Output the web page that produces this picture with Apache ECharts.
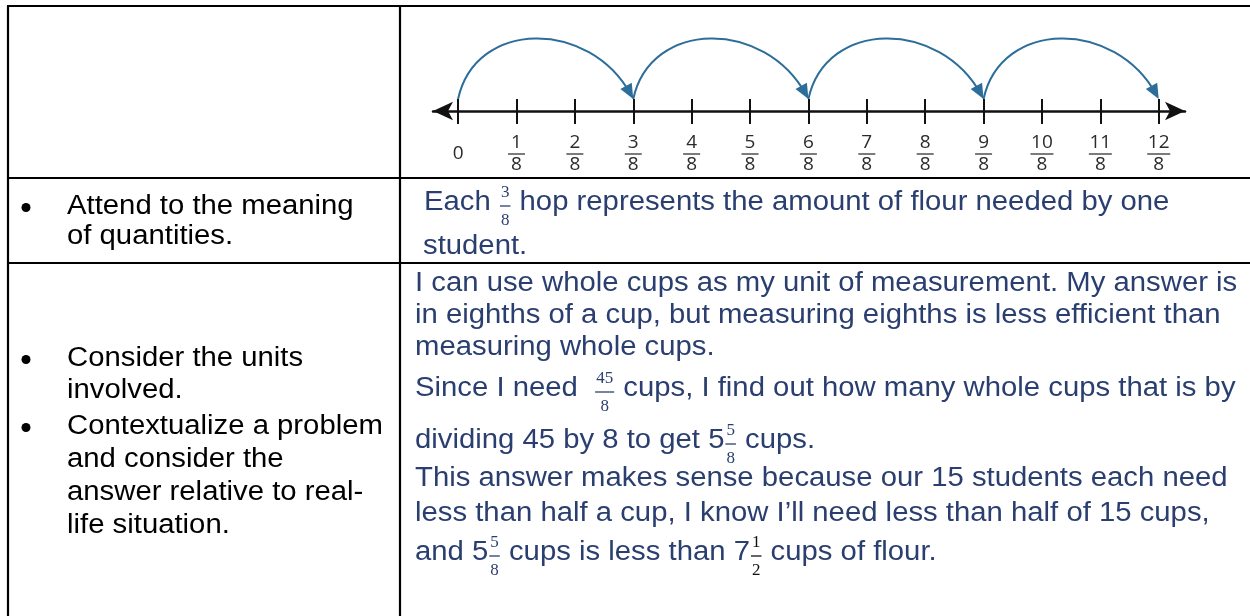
<!DOCTYPE html>
<html lang="en">
<head>
<meta charset="UTF-8">
<title>Flour hops</title>
<script src="https://cdn.jsdelivr.net/npm/echarts@6/dist/echarts.min.js"></script>
<style>html,body{margin:0;padding:0;background:#fff;}</style>
</head>
<body>
<div id="main" style="width:1250px;height:616px;"></div>
<script type="text/javascript">
// number line, counted in eighths
var tickValues = [0, 1, 2, 3, 4, 5, 6, 7, 8, 9, 10, 11, 12];
var tickLabels = ['0', '1/8', '2/8', '3/8', '4/8', '5/8', '6/8', '7/8', '8/8', '9/8', '10/8', '11/8', '12/8'];
var hopStarts = [0, 3, 6, 9];
var hopEnds = [3, 6, 9, 12];

// table text (fractions written as [numerator, denominator, colour])
var leftRow2 = ['Attend to the meaning', 'of quantities.'];
var leftRow3a = ['Consider the units', 'involved.'];
var leftRow3b = ['Contextualize a problem', 'and consider the', 'answer relative to real-', 'life situation.'];
var rightRow2 = [
  ['Each ', ['3', '8'], ' hop represents the amount of flour needed by one'],
  ['student.']
];
var rightRow3 = [
  ['I can use whole cups as my unit of measurement. My answer is'],
  ['in eighths of a cup, but measuring eighths is less efficient than'],
  ['measuring whole cups.'],
  ['Since I need  ', ['45', '8'], ' cups, I find out how many whole cups that is by'],
  ['dividing 45 by 8 to get 5', ['5', '8'], ' cups.'],
  ['This answer makes sense because our 15 students each need'],
  ['less than half a cup, I know I\u2019ll need less than half of 15 cups,'],
  ['and 5', ['5', '8'], ' cups is less than 7', ['1', '2', '#111'], ' cups of flour.']
];

var HOP = '#2c6e99';
var BLUE = '#2a3f6f';
var SX = 1.085;
var bodyFont = '27px "Liberation Sans", Arial, sans-serif';
var fracFont = '17px "Liberation Serif", serif';

var ctx = document.createElement('canvas').getContext('2d');
function textW(s, font) { ctx.font = font; return ctx.measureText(s).width; }

var g = [];
function line(x1, y1, x2, y2) {
  g.push({type: 'line', silent: true, shape: {x1: x1, y1: y1, x2: x2, y2: y2},
    style: {stroke: '#000', lineWidth: 2.2}});
}
function text(s, x, base, color) {
  g.push({type: 'text', silent: true, x: x, y: base - 9.4, scaleX: SX,
    style: {text: s, x: 0, y: 0, font: bodyFont, fill: color, verticalAlign: 'middle', align: 'left'}});
}
function bullet(base) {
  g.push({type: 'circle', silent: true, shape: {cx: 26, cy: base - 8.5, r: 4.5}, style: {fill: '#000'}});
}
function richLine(parts, x, base) {
  parts.forEach(function (p) {
    if (typeof p === 'string') {
      text(p, x, base, BLUE);
      x += textW(p, bodyFont) * SX;
    } else {
      var col = p[2] || BLUE;
      var fw = Math.max(textW(p[0], fracFont), textW(p[1], fracFont)) + 2;
      var cx = x + 1 + fw / 2;
      g.push({type: 'text', silent: true, x: cx, y: base - 19,
        style: {text: p[0], font: fracFont, fill: col, align: 'center', verticalAlign: 'middle'}});
      g.push({type: 'line', silent: true, shape: {x1: cx - fw / 2, y1: base - 6, x2: cx + fw / 2, y2: base - 6},
        style: {stroke: col, lineWidth: 1.3}});
      g.push({type: 'text', silent: true, x: cx, y: base + 9,
        style: {text: p[1], font: fracFont, fill: col, align: 'center', verticalAlign: 'middle'}});
      x += fw + 2;
    }
  });
}

// table frame
line(8, 6, 8, 620);
line(400, 6, 400, 620);
line(7, 6, 1252, 6);
line(7, 178, 1252, 178);
line(7, 263, 1252, 263);

// left column
bullet(216);
text(leftRow2[0], 67, 216, '#000');
text(leftRow2[1], 67, 246, '#000');
var leftBase3 = [368, 400, 436, 469, 502, 535];
bullet(leftBase3[0]);
bullet(leftBase3[2]);
leftRow3a.concat(leftRow3b).forEach(function (s, i) { text(s, 67, leftBase3[i], '#000'); });

// right column
richLine(rightRow2[0], 424, 212);
richLine(rightRow2[1], 423, 256);
var rightBase3 = [293, 325, 357, 398, 450, 488, 523, 562];
rightRow3.forEach(function (parts, i) { richLine(parts, 415, rightBase3[i]); });

function fracLabel(v) {
  var s = tickLabels[tickValues.indexOf(v)];
  if (s == null) return '';
  if (s.indexOf('/') < 0) return '{z|' + s + '}';
  var p = s.split('/');
  return '{n|' + p[0] + '}\n{' + (p[0].length > 1 ? 'bw' : 'b') + '| }\n{n|' + p[1] + '}';
}

function renderHop(params, api) {
  var a = api.coord([api.value(0), 0]);
  var b = api.coord([api.value(1), 0]);
  var y0 = a[1] - 12;
  var w = b[0] - a[0];
  var top = y0 - 80;
  var c1 = [a[0] + 0.1 * w, top];
  var c2 = [b[0] - 0.25 * w, top];
  var ang = Math.atan2(y0 - c2[1], b[0] - c2[0]);
  var L = 15, H = 6.5;
  var bx = b[0] - L * Math.cos(ang), by = y0 - L * Math.sin(ang);
  var px = -Math.sin(ang) * H, py = Math.cos(ang) * H;
  return {type: 'group', children: [
    {type: 'bezierCurve', shape: {x1: a[0], y1: y0, x2: b[0] - 5 * Math.cos(ang), y2: y0 - 5 * Math.sin(ang),
      cpx1: c1[0], cpy1: c1[1], cpx2: c2[0], cpy2: c2[1]},
      style: {stroke: HOP, lineWidth: 2, fill: 'none'}},
    {type: 'polygon', shape: {points: [[b[0], y0], [bx + px, by + py], [bx - px, by - py]]},
      style: {fill: HOP, stroke: 'none'}}
  ]};
}

var labelRich = {
  n: {fontFamily: 'Open Sans', fontSize: 19, color: '#2b2b2b', lineHeight: 20, align: 'center'},
  b: {width: 17, height: 1.3, lineHeight: 2, backgroundColor: '#333', fontSize: 2, align: 'center'},
  bw: {width: 23, height: 1.3, lineHeight: 2, backgroundColor: '#333', fontSize: 2, align: 'center'},
  z: {fontFamily: 'Open Sans', fontSize: 19, color: '#2b2b2b', lineHeight: 42, align: 'center'}
};

var myChart = echarts.init(document.getElementById('main'), null, {renderer: 'canvas'});
myChart.setOption({
  animation: false,
  grid: {left: 433, right: 65, top: 20, bottom: 505, outerBoundsMode: 'none'},
  xAxis: [{
    type: 'value', min: -0.43, max: 12.45, position: 'bottom',
    axisLine: {show: true, symbol: ['arrow', 'arrow'], symbolSize: [14, 20],
      lineStyle: {color: '#111', width: 2.5}},
    axisTick: {show: true, customValues: tickValues, length: 13, lineStyle: {color: '#111', width: 2}},
    axisLabel: {show: true, customValues: tickValues, margin: 22, formatter: fracLabel, rich: labelRich},
    splitLine: {show: false}
  }, {
    type: 'value', min: -0.43, max: 12.45, position: 'bottom',
    axisLine: {show: false},
    axisTick: {show: true, inside: true, customValues: tickValues, length: 12, lineStyle: {color: '#111', width: 2}},
    axisLabel: {show: false},
    splitLine: {show: false}
  }],
  yAxis: {type: 'value', min: 0, max: 1, show: false},
  series: [{
    type: 'custom', xAxisIndex: 0, yAxisIndex: 0, silent: true, clip: false,
    data: hopStarts.map(function (s, i) { return [s, hopEnds[i]]; }),
    renderItem: renderHop
  }],
  graphic: g
});
</script>
</body>
</html>
